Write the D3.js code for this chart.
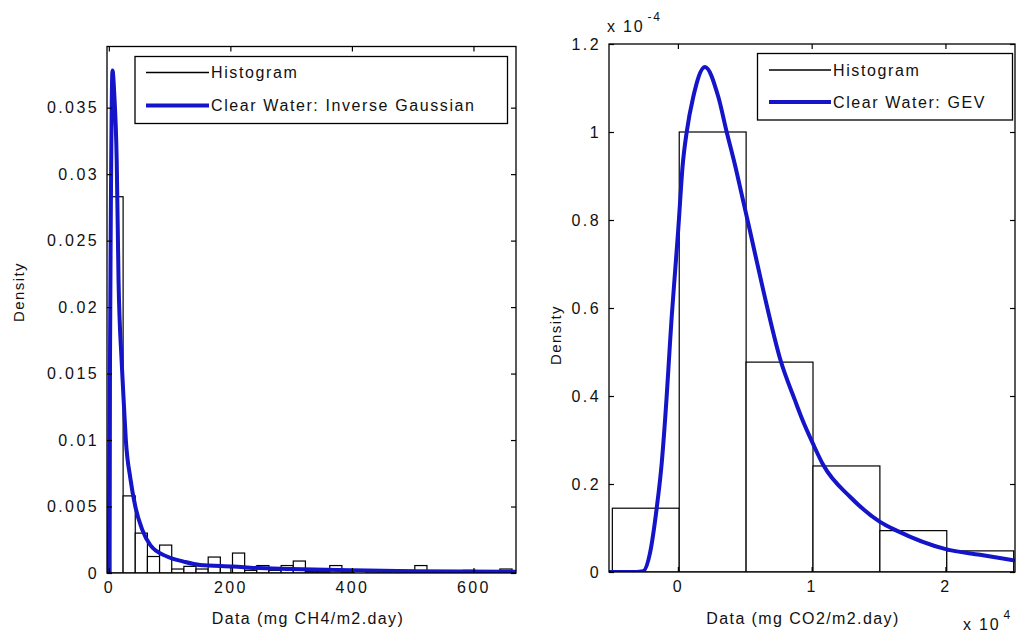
<!DOCTYPE html>
<html>
<head>
<meta charset="utf-8">
<script src="https://cdn.jsdelivr.net/npm/d3@7/dist/d3.min.js"></script>
<style>
  html, body { margin: 0; padding: 0; background: #fff; }
  svg { display: block; }
  text { font-family: "Liberation Sans", Arial, sans-serif; fill: #111; }
</style>
</head>
<body>
<svg id="chart" width="1018" height="636"></svg>
<script>
// ---------- Left panel: CH4 ----------
const ch4BinStart = 3.5;
const ch4BinWidth = 20;
const ch4Hist = [0.0283, 0.0058, 0.0030, 0.00124, 0.0021, 0.0003, 0.0005, 0.0003, 0.0012, 0.0005,
                 0.0015, 0.0002, 0.00056, 0.0002, 0.00056, 0.0009, 0.0001, 0.0001, 0.00056, 0.0001,
                 0, 0.0002, 0.0002, 0, 0.0002, 0.00056, 0, 0, 0, 0.0002, 0.0001, 0, 0.0003];
const ch4CurveX = [-3, 0, 1, 3, 6, 9, 13, 16, 21, 25, 28, 35.5, 43.6, 54.6, 68.3, 95.7, 123, 150, 205, 233, 300, 400, 500, 670];
const ch4CurveY = [0, 0, 0.008, 0.025, 0.0378, 0.036, 0.031, 0.022, 0.016, 0.0125, 0.01, 0.0071, 0.005, 0.0033,
                   0.0021, 0.00124, 0.00086, 0.0006, 0.00048, 0.0004, 0.0003, 0.0002, 0.00014, 0.0001];
const ch4XTicks = [0, 200, 400, 600];
const ch4YTicks = [0, 0.005, 0.01, 0.015, 0.02, 0.025, 0.03, 0.035];
const ch4YTickLabels = ["0", "0.005", "0.01", "0.015", "0.02", "0.025", "0.03", "0.035"];
const ch4Legend = ["Histogram", "Clear Water: Inverse Gaussian"];
const ch4XLabel = "Data (mg CH4/m2.day)";

// ---------- Right panel: CO2 ----------
const co2BinStart = -4900;
const co2BinWidth = 5000;
const co2Hist = [0.145e-4, 1.0e-4, 0.477e-4, 0.241e-4, 0.094e-4, 0.048e-4];
const co2CurveX = [-5150, -3500, -2609, -2086, -1585, -1211, -837, -591, -463, -217, 30, 359, 658, 1151, 2026,
                   3020, 3648, 4269, 4830, 5390, 6384, 7685, 8754, 9255, 10122, 10870, 12866, 15108, 16357, 20020, 22584, 25200];
const co2CurveY = [0, 0, 0.002, 0.043, 0.145, 0.247, 0.40, 0.52, 0.58, 0.68, 0.78, 0.925, 1.0, 1.08, 1.148,
                   1.08, 1.0, 0.925, 0.85, 0.775, 0.64, 0.48, 0.39, 0.35, 0.29, 0.243, 0.171, 0.114, 0.094, 0.052, 0.039, 0.026].map(v => v * 1e-4);
const co2XTicks = [0, 10000, 20000];
const co2XTickLabels = ["0", "1", "2"];
const co2YTicks = [0, 0.2e-4, 0.4e-4, 0.6e-4, 0.8e-4, 1.0e-4, 1.2e-4];
const co2YTickLabels = ["0", "0.2", "0.4", "0.6", "0.8", "1", "1.2"];
const co2Legend = ["Histogram", "Clear Water: GEV"];
const co2XLabel = "Data (mg CO2/m2.day)";

const BLUE = "#1414c8";
const svg = d3.select("#chart");
svg.append("rect").attr("width", 1018).attr("height", 636).attr("fill", "#fff");

function panel(opts) {
  const { id, xDomain, xRange, yDomain, yRange, binStart, binWidth, hist, cx, cy,
          xTicks, xTickLabels, yTicks, yTickLabels, legend, legendBox, xLabel, xLabelPos, yLabelPos } = opts;
  const x = d3.scaleLinear().domain(xDomain).range(xRange);
  const y = d3.scaleLinear().domain(yDomain).range(yRange);
  const g = svg.append("g");

  g.append("clipPath").attr("id", "clip" + id).append("rect")
    .attr("x", xRange[0]).attr("y", yRange[1])
    .attr("width", xRange[1] - xRange[0]).attr("height", yRange[0] - yRange[1]);

  // bars
  g.append("g").attr("clip-path", `url(#clip${id})`)
    .selectAll("rect").data(hist).join("rect")
    .attr("x", (d, i) => x(binStart + i * binWidth))
    .attr("width", (d, i) => x(binStart + (i + 1) * binWidth) - x(binStart + i * binWidth))
    .attr("y", d => y(d))
    .attr("height", d => y(0) - y(d))
    .attr("fill", "#fff").attr("stroke", "#000").attr("stroke-width", 1.2);

  // curve
  const pts = cx.map((v, i) => [v, cy[i]]);
  g.append("path").attr("clip-path", `url(#clip${id})`)
    .datum(pts)
    .attr("fill", "none").attr("stroke", BLUE).attr("stroke-width", 4)
    .attr("stroke-linejoin", "round")
    .attr("d", d3.line().x(d => x(d[0])).y(d => y(d[1])).curve(d3.curveMonotoneX));

  // axes (ticks inward)
  const ax = g.append("g").attr("class", "axes");
  ax.append("g").attr("transform", `translate(0,${yRange[0]})`)
    .call(d3.axisBottom(x).tickValues(xTicks).tickSize(-5).tickPadding(9)
      .tickFormat((d, i) => xTickLabels[i]));
  ax.append("g").attr("transform", `translate(0,${yRange[1]})`)
    .call(d3.axisTop(x).tickValues(xTicks).tickSize(-5).tickFormat(""));
  ax.append("g").attr("transform", `translate(${xRange[0]},0)`)
    .call(d3.axisLeft(y).tickValues(yTicks).tickSize(-5).tickPadding(8)
      .tickFormat((d, i) => yTickLabels[i]));
  ax.append("g").attr("transform", `translate(${xRange[1]},0)`)
    .call(d3.axisRight(y).tickValues(yTicks).tickSize(-5).tickFormat(""));
  ax.selectAll(".domain").remove();
  ax.selectAll(".tick line").attr("stroke", "#000").attr("stroke-width", 1.2);
  ax.selectAll(".tick text").attr("font-size", 16).attr("letter-spacing", "2.4px")
    .attr("font-family", '"Liberation Sans", Arial, sans-serif').attr("fill", "#111");

  g.append("rect").attr("x", xRange[0]).attr("y", yRange[1])
    .attr("width", xRange[1] - xRange[0]).attr("height", yRange[0] - yRange[1])
    .attr("fill", "none").attr("stroke", "#000").attr("stroke-width", 1.3);

  // legend
  const lg = g.append("g");
  lg.append("rect").attr("x", legendBox.x).attr("y", legendBox.y)
    .attr("width", legendBox.w).attr("height", legendBox.h)
    .attr("fill", "#fff").attr("stroke", "#000").attr("stroke-width", 1.3);
  legend.forEach((t, i) => {
    const yy = legendBox.rowY[i];
    lg.append("line").attr("x1", legendBox.lx1).attr("x2", legendBox.lx2)
      .attr("y1", yy).attr("y2", yy)
      .attr("stroke", i === 0 ? "#000" : BLUE).attr("stroke-width", i === 0 ? 1.3 : 4);
    lg.append("text").attr("x", legendBox.tx).attr("y", yy).attr("dy", "0.36em")
      .attr("font-size", 16).attr("letter-spacing", "1.6px").text(t);
  });

  // labels
  g.append("text").attr("x", xLabelPos[0]).attr("y", xLabelPos[1]).attr("text-anchor", "middle")
    .attr("font-size", 16).attr("letter-spacing", "1.4px").text(xLabel);
  g.append("text").attr("transform", `translate(${yLabelPos[0]},${yLabelPos[1]}) rotate(-90)`)
    .attr("text-anchor", "middle").attr("dy", "0.36em")
    .attr("font-size", 15).attr("letter-spacing", "1.4px").text("Density");
  return { x, y };
}

panel({
  id: "L", xDomain: [-3, 670], xRange: [107, 516], yDomain: [0, 0.0396], yRange: [573, 46.5],
  binStart: ch4BinStart, binWidth: ch4BinWidth, hist: ch4Hist, cx: ch4CurveX, cy: ch4CurveY,
  xTicks: ch4XTicks, xTickLabels: ch4XTicks.map(String), yTicks: ch4YTicks, yTickLabels: ch4YTickLabels,
  legend: ch4Legend,
  legendBox: { x: 135, y: 56.5, w: 372.5, h: 67, lx1: 146, lx2: 209, tx: 211, rowY: [72.5, 105.5] },
  xLabel: ch4XLabel, xLabelPos: [308, 624], yLabelPos: [19, 292]
});

panel({
  id: "R", xDomain: [-5150, 25200], xRange: [609, 1015], yDomain: [0, 1.2e-4], yRange: [572, 44],
  binStart: co2BinStart, binWidth: co2BinWidth, hist: co2Hist, cx: co2CurveX, cy: co2CurveY,
  xTicks: co2XTicks, xTickLabels: co2XTickLabels, yTicks: co2YTicks, yTickLabels: co2YTickLabels,
  legend: co2Legend,
  legendBox: { x: 757.5, y: 53.5, w: 255, h: 66.5, lx1: 769, lx2: 831, tx: 833, rowY: [70, 102] },
  xLabel: co2XLabel, xLabelPos: [803, 624], yLabelPos: [556, 335]
});

// exponent annotations
function expLabel(xPos, yPos, base, exp) {
  const t = svg.append("text").attr("x", xPos).attr("y", yPos).attr("font-size", 16).attr("letter-spacing", "1.8px");
  t.append("tspan").text(base);
  t.append("tspan").attr("dx", 3).attr("dy", -11).attr("font-size", 12).text(exp);
}
expLabel(607, 32, "x 10", "-4");
expLabel(963, 630, "x 10", "4");
</script>
</body>
</html>
